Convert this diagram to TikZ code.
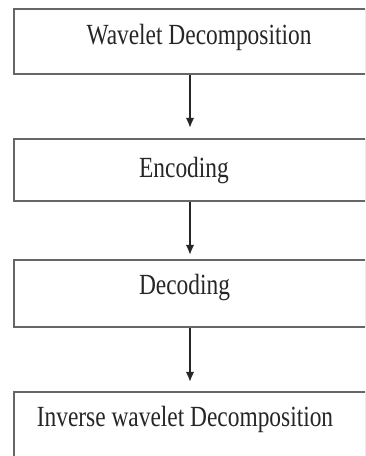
\documentclass[tikz,border=0pt]{standalone}
\usepackage{fontspec}
\usepackage{graphicx}
\setmainfont{Liberation Serif}
\usetikzlibrary{arrows.meta}
\begin{document}
\begin{tikzpicture}[x=1pt,y=1pt,
  box/.style={draw=black!60, line width=2.2pt, minimum width=352pt, inner sep=0pt},
  txt/.style={anchor=base, inner sep=0pt, text=black!85, font=\fontsize{23.4}{28}\selectfont},
  flow/.style={draw=black!85, line width=1.7pt, -{Latex[length=10pt,width=8.5pt]}}]
\useasboundingbox (0,0) rectangle (365,456);
\clip (0,0) rectangle (365,456);
\fill[white] (0,0) rectangle (365,456);
% the four stages
\node[box, minimum height=65pt] (box1) at (190,414.5){};
\node[box, minimum height=62pt] (box2) at (190,286){};
\node[box, minimum height=67pt] (box3) at (190,162.5){};
\node[box, minimum height=88pt] (box4) at (190,20){};
\node[txt] (lab1) at (199,411){\scalebox{1}[1.25]{Wavelet Decomposition}};
\node[txt] (lab2) at (184,278){\scalebox{1}[1.25]{Encoding}};
\node[txt] (lab3) at (184.5,161){\scalebox{1}[1.25]{Decoding}};
\node[txt] (lab4) at (185,29){\scalebox{1}[1.25]{Inverse wavelet Decomposition}};
\draw[flow, shorten >=10pt] (box1) -- (box2);
\draw[flow, shorten >=4pt] (box2) -- (box3);
\draw[flow, shorten >=9pt] (box3) -- (box4);
\end{tikzpicture}
\end{document}
